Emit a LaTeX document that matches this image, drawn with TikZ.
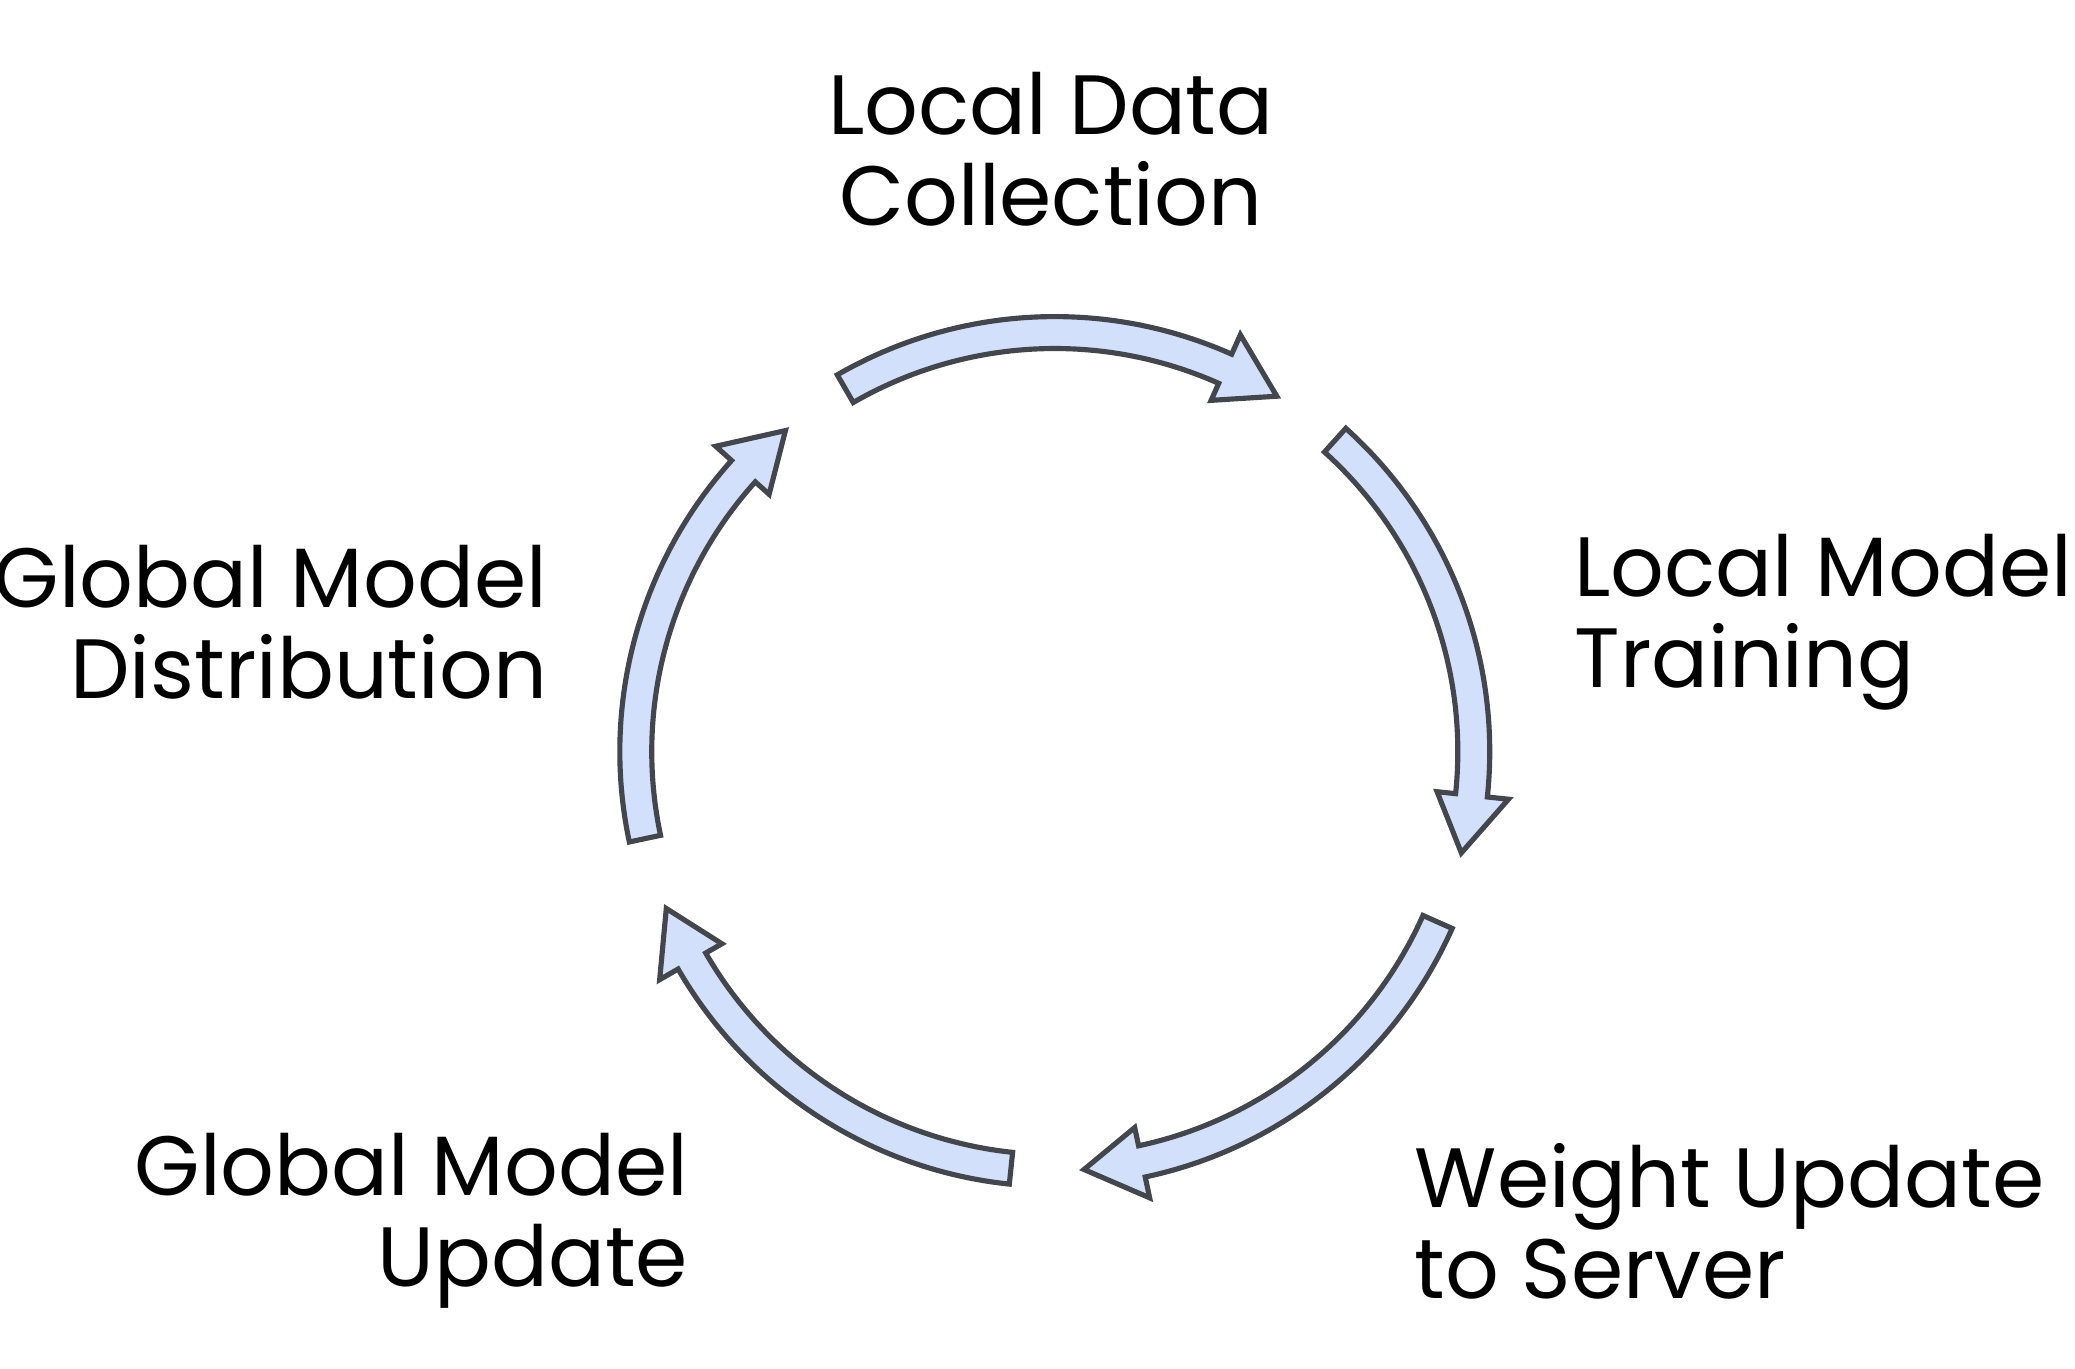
\documentclass[tikz,border=0pt]{standalone}
\usepackage{fontspec}
\setmainfont{Poppins}
\usetikzlibrary{positioning}
\definecolor{arrowfill}{HTML}{D3E0FB}
\definecolor{arrowline}{HTML}{43464D}
\tikzset{
    % cycle arrow style
    cyclearrow/.style={
           fill=arrowfill,
           draw=arrowline,
           line width=1.1pt,
           line join=miter},
    steplabel/.style={
           font=\fontsize{18}{19.5}\selectfont,
           inner sep=0pt}
}
\newcommand{\ringrad}{315}

\begin{document}
\begin{tikzpicture}[x=0.01cm, y=0.01cm]
\useasboundingbox (-793,565) rectangle (767,-464);

%%%%%%%%%%%%%%%%%%%%%%%%%%%%%%%%%
% ring of arrows
%%%%%%%%%%%%%%%%%%%%%%%%%%%%%%%%%
\foreach \s in {120,48,-24,-96,-168}{
    \pgfmathsetmacro{\m}{\s-54}
    \pgfmathsetmacro{\e}{\s-62}
    \draw[cyclearrow] (\s:327) arc[start angle=\s, end angle=\m, radius=327]
        -- (\m:343) -- (\e:\ringrad) -- (\m:289) -- (\m:303)
        arc[start angle=\m, end angle=\s, radius=303] -- cycle;
}

%%%%%%%%%%%%%%%%%%%%%%%%%%%%%%%%%
% labels
%%%%%%%%%%%%%%%%%%%%%%%%%%%%%%%%%
\node[steplabel, align=center] (collect) at (-3,453) {Local Data\\Collection};
\node[steplabel, align=left, anchor=west] (train) at (390,97) {Local Model\\Training};
\node[steplabel, align=left, anchor=west] (send) at (270,-353) {Weight Update\\to Server};
\node[steplabel, align=right, anchor=east] (aggregate) at (-275,-353) {Global Model\\Update};
\node[steplabel, align=right, anchor=east] (distribute) at (-381,97) {Global Model\\Distribution};

\end{tikzpicture}
\end{document}
